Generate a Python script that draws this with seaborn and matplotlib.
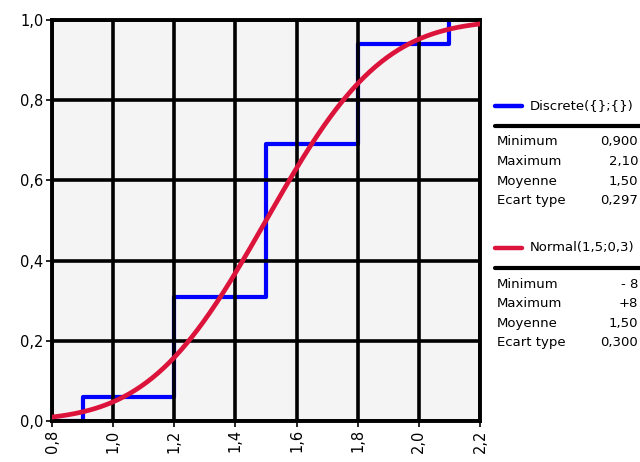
import math
import numpy as np
import pandas as pd
import seaborn as sns
import matplotlib
matplotlib.use("Agg")
import matplotlib.pyplot as plt
from matplotlib.ticker import FuncFormatter

# Discrete distribution: support points and cumulative probabilities
disc_x = [0.9, 1.2, 1.5, 1.8, 2.1]
disc_cum = [0.06, 0.31, 0.69, 0.94, 1.00]

# Normal distribution parameters
norm_mu = 1.5
norm_sigma = 0.3

x_ticks = [0.8, 1.0, 1.2, 1.4, 1.6, 1.8, 2.0, 2.2]
y_ticks = [0.0, 0.2, 0.4, 0.6, 0.8, 1.0]

disc_stats = [("Minimum", "0,900"), ("Maximum", "2,10"),
              ("Moyenne", "1,50"), ("Ecart type", "0,297")]
norm_stats = [("Minimum", "- 8"), ("Maximum", "+8"),
              ("Moyenne", "1,50"), ("Ecart type", "0,300")]

sns.set_theme(style="white")
plt.rcParams["font.family"] = ["DejaVu Sans"]

# Step CDF table, starting at the left edge of the axis
step_df = pd.DataFrame({"x": [x_ticks[0]] + disc_x,
                        "p": [0.0] + disc_cum})

# Continuous CDF of the normal law
xs = np.linspace(x_ticks[0], x_ticks[-1], 300)
cdf = [0.5 * (1 + math.erf((v - norm_mu) / (norm_sigma * math.sqrt(2)))) for v in xs]
norm_df = pd.DataFrame({"x": xs, "p": cdf})

fig = plt.figure(figsize=(6.4, 4.62), dpi=100)
ax = fig.add_axes([52 / 640, 41 / 462, 428 / 640, 401 / 462])
ax.set_facecolor("#f4f4f4")

sns.lineplot(data=step_df, x="x", y="p", ax=ax, color="#0000ff", lw=3.0,
             drawstyle="steps-post", zorder=1, sort=False)
sns.lineplot(data=norm_df, x="x", y="p", ax=ax, color="#dc143c", lw=3.4,
             zorder=3)

ax.set_xlim(x_ticks[0], x_ticks[-1])
ax.set_ylim(y_ticks[0], y_ticks[-1])
ax.set_xticks(x_ticks)
ax.set_yticks(y_ticks)
fmt = FuncFormatter(lambda v, _: f"{v:.1f}".replace(".", ","))
ax.xaxis.set_major_formatter(fmt)
ax.yaxis.set_major_formatter(fmt)
ax.grid(True, color="black", lw=2.6, zorder=2)
ax.set_axisbelow(False)
for ln in ax.get_xgridlines() + ax.get_ygridlines():
    ln.set_zorder(2)
for sp in ax.spines.values():
    sp.set_color("black")
    sp.set_linewidth(2.8)
    sp.set_zorder(2.5)
ax.tick_params(axis="both", which="major", direction="out", length=4,
               width=1.2, color="black", labelsize=10.5, labelcolor="black",
               left=True, bottom=True, pad=2)
ax.tick_params(axis="x", labelrotation=90)
ax.set_xlabel("")
ax.set_ylabel("")

# Side panel with legend entries and summary statistics
def px(x, y):
    return x / 640, 1 - y / 462

def panel(y0, color, title, rows):
    fig.add_artist(plt.Line2D([px(495, 0)[0], px(522, 0)[0]],
                              [px(0, y0)[1]] * 2, color=color, lw=3.2))
    fig.text(*px(530, y0), title, fontsize=9.5, va="center", ha="left",
             color="black")
    fig.add_artist(plt.Line2D([px(495, 0)[0], 1.0],
                              [px(0, y0 + 20)[1]] * 2, color="black", lw=3.0))
    for i, (lab, val) in enumerate(rows):
        yy = y0 + 36 + i * 19.5
        fig.text(*px(497, yy), lab, fontsize=9.5, va="center", ha="left",
                 color="black")
        fig.text(*px(638, yy), val, fontsize=9.5, va="center", ha="right",
                 color="black")

panel(106, "#0000ff", "Discrete({};{})", disc_stats)
panel(248, "#dc143c", "Normal(1,5;0,3)", norm_stats)

fig.savefig("out.png", dpi=100)
